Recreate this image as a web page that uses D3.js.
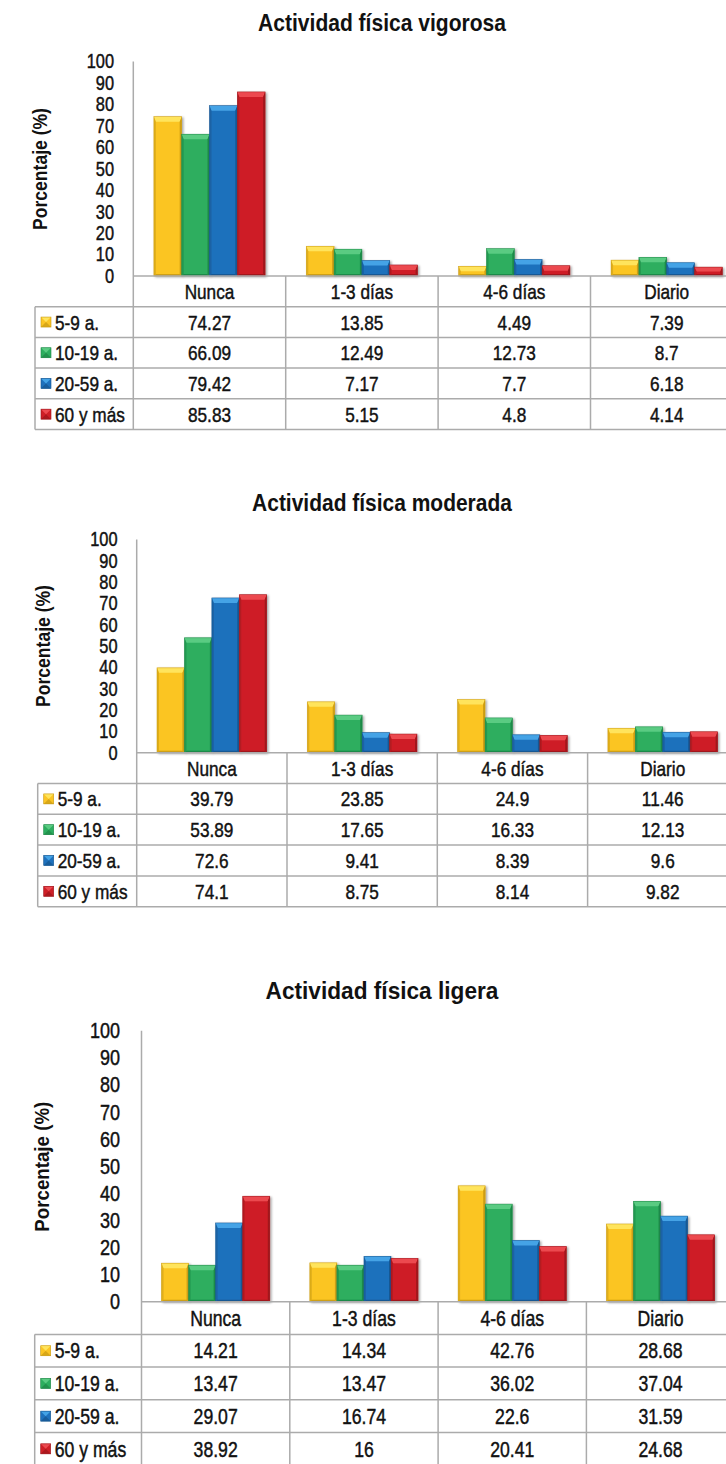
<!DOCTYPE html>
<html>
<head>
<meta charset="utf-8">
<script src="https://cdn.jsdelivr.net/npm/d3@7"></script>
<style>
  html, body { margin: 0; padding: 0; background: #ffffff; }
  svg { display: block; }
</style>
</head>
<body>
<svg id="chart" width="726" height="1464"></svg>
<script>
// ---------- DATA ----------
const categories = ["Nunca", "1-3 días", "4-6 días", "Diario"];
const series = ["5-9 a.", "10-19 a.", "20-59 a.", "60 y más"];
const yTicks = [0, 10, 20, 30, 40, 50, 60, 70, 80, 90, 100];
const yLabel = "Porcentaje (%)";
const titles = ["Actividad física vigorosa", "Actividad física moderada", "Actividad física ligera"];

// rows = series, columns = categories
const vigorosa = [
  [74.27, 13.85, 4.49, 7.39],
  [66.09, 12.49, 12.73, 8.7],
  [79.42, 7.17, 7.7, 6.18],
  [85.83, 5.15, 4.8, 4.14]
];
const moderada = [
  [39.79, 23.85, 24.9, 11.46],
  [53.89, 17.65, 16.33, 12.13],
  [72.6, 9.41, 8.39, 9.6],
  [74.1, 8.75, 8.14, 9.82]
];
const ligera = [
  [14.21, 14.34, 42.76, 28.68],
  [13.47, 13.47, 36.02, 37.04],
  [29.07, 16.74, 22.6, 31.59],
  [38.92, 16, 20.41, 24.68]
];

// ---------- STYLE ----------
const colors = ["#FBC524", "#2DAE5F", "#1F71BC", "#CE1F27"];
const lightColors = ["#FFE45C", "#5ACB82", "#44A3E6", "#EC4A50"];
const darkColors = ["#C99A12", "#1E8646", "#15558F", "#9C151B"];
const gridColor = "#ABABAB";
const font = "'Liberation Sans', Arial, sans-serif";
const NARROW = 0.82;
const TEXT_STROKE = 0.45;

// ---------- LAYOUT ----------
const layouts = [
  { data: vigorosa, titleY: 31, titleSize: 23, titleSx: 0.915, axisX: 133.3, colW: 152.4, yTop: 61.5, yBase: 276, rowH: 30.7,
    tableLeft: 35, tickRight: 114, tickSize: 20, yLabelX: 40, yLabelY: 169, yLabelSize: 19.5, yLabelSx: 0.9, cellSize: 21 },
  { data: moderada, titleY: 511, titleSize: 23, titleSx: 0.912, axisX: 136.7, colW: 150.3, yTop: 539.5, yBase: 752.7, rowH: 30.8,
    tableLeft: 37.7, tickRight: 117.5, tickSize: 20, yLabelX: 43.3, yLabelY: 646, yLabelSize: 19.5, yLabelSx: 0.9, cellSize: 21 },
  { data: ligera, titleY: 999, titleSize: 24, titleSx: 0.944, axisX: 141.5, colW: 148.3, yTop: 1030.7, yBase: 1301.7, rowH: 32.7,
    tableLeft: 34.7, tickRight: 120, tickSize: 22, yLabelX: 41.7, yLabelY: 1166.7, yLabelSize: 20.5, yLabelSx: 0.913, cellSize: 21.5 }
];

const svg = d3.select("#chart");
const defs = svg.append("defs");
const filt = defs.append("filter").attr("id", "shadow").attr("x", "-20%").attr("y", "-20%").attr("width", "150%").attr("height", "150%");
filt.append("feDropShadow").attr("dx", 1.5).attr("dy", 1).attr("stdDeviation", 1).attr("flood-color", "#000").attr("flood-opacity", 0.35);

// squeezed text helper
function txt(g, x, y, str, size, sx, anchor, bold) {
  const t = g.append("text")
    .attr("transform", `translate(${x},${y}) scale(${sx},1)`)
    .attr("text-anchor", anchor || "start")
    .attr("font-family", font)
    .attr("font-weight", bold ? "bold" : "normal")
    .attr("font-size", size)
    .attr("fill", "#111")
    .text(str);
  if (!bold) t.attr("stroke", "#111").attr("stroke-width", TEXT_STROKE);
  return t;
}

function bevelBar(g, x0, y0, w, h, i) {
  const b = Math.min(2, w / 4);
  const bt = Math.min(5, h / 2);
  const bb = Math.min(2, h / 4);
  const bar = g.append("g").attr("filter", "url(#shadow)");
  bar.append("rect").attr("x", x0).attr("y", y0).attr("width", w).attr("height", h).attr("fill", colors[i]);
  const poly = (pts, fill, op) => bar.append("polygon").attr("points", pts.map(p => p.join(",")).join(" ")).attr("fill", fill).attr("opacity", op);
  poly([[x0, y0], [x0 + w, y0], [x0 + w - b, y0 + bt], [x0 + b, y0 + bt]], lightColors[i], 1);
  poly([[x0, y0], [x0 + b, y0 + bt], [x0 + b, y0 + h - bb], [x0, y0 + h]], darkColors[i], 0.55);
  poly([[x0 + w, y0], [x0 + w - b, y0 + bt], [x0 + w - b, y0 + h - bb], [x0 + w, y0 + h]], darkColors[i], 0.9);
  poly([[x0, y0 + h], [x0 + b, y0 + h - bb], [x0 + w - b, y0 + h - bb], [x0 + w, y0 + h]], darkColors[i], 0.9);
  bar.append("rect").attr("x", x0).attr("y", y0).attr("width", w).attr("height", h)
    .attr("fill", "none").attr("stroke", darkColors[i]).attr("stroke-width", 0.6).attr("stroke-opacity", 0.8);
}

function bevelKey(g, x0, y0, s, i) {
  const k = g.append("g");
  k.append("rect").attr("x", x0).attr("y", y0).attr("width", s).attr("height", s).attr("fill", colors[i]);
  const c = s / 2;
  k.append("polygon").attr("points", `${x0},${y0} ${x0 + s},${y0} ${x0 + c},${y0 + c}`).attr("fill", lightColors[i]);
  k.append("polygon").attr("points", `${x0},${y0 + s} ${x0 + s},${y0 + s} ${x0 + c},${y0 + c}`).attr("fill", darkColors[i]).attr("opacity", 0.7);
  k.append("rect").attr("x", x0).attr("y", y0).attr("width", s).attr("height", s).attr("fill", "none")
    .attr("stroke", darkColors[i]).attr("stroke-width", 0.6);
}

layouts.forEach((L, ci) => {
  const g = svg.append("g");
  const x = d3.scaleBand().domain(categories).range([L.axisX, L.axisX + L.colW * categories.length]).padding(0);
  const xs = d3.scaleBand().domain(series).range([0, x.bandwidth()]).paddingInner(0).paddingOuter(0.74);
  const y = d3.scaleLinear().domain([0, 100]).range([L.yBase, L.yTop]);
  const nRows = series.length + 1;
  const tableBottom = L.yBase + L.rowH * nRows;
  const rightEdge = L.axisX + L.colW * categories.length;

  // Title
  txt(g, 382, L.titleY, titles[ci], L.titleSize, L.titleSx, "middle", true);

  // Y axis label
  g.append("text").attr("transform", `translate(${L.yLabelX},${L.yLabelY}) rotate(-90) scale(${L.yLabelSx},1)`)
    .attr("dy", "0.35em").attr("text-anchor", "middle")
    .attr("font-family", font).attr("font-weight", "bold").attr("font-size", L.yLabelSize)
    .attr("fill", "#111").text(yLabel);

  // Y axis ticks
  const pad = L.axisX - L.tickRight;
  const yAxis = d3.axisLeft(y).tickValues(yTicks).tickSize(0).tickPadding(pad).tickFormat(d3.format("d"));
  const ya = g.append("g").attr("transform", `translate(${L.axisX},0)`).call(yAxis);
  ya.select(".domain").remove();
  ya.selectAll("text")
    .attr("x", -pad / NARROW)
    .attr("transform", `scale(${NARROW},1)`)
    .attr("font-family", font).attr("font-size", L.tickSize).attr("fill", "#111")
    .attr("stroke", "#111").attr("stroke-width", TEXT_STROKE);

  // Bars
  series.forEach((s, si) => {
    categories.forEach((c, cj) => {
      const v = L.data[si][cj];
      bevelBar(g, x(c) + xs(s), y(v), xs.bandwidth(), y(0) - y(v), si);
    });
  });

  // Grid lines
  const lines = g.append("g").attr("stroke", gridColor).attr("stroke-width", 1.5).attr("fill", "none");
  lines.append("line").attr("x1", L.axisX).attr("x2", L.axisX).attr("y1", y(100)).attr("y2", tableBottom);
  categories.forEach(c => {
    const xx = x(c) + x.bandwidth();
    lines.append("line").attr("x1", xx).attr("x2", xx).attr("y1", L.yBase).attr("y2", tableBottom);
  });
  lines.append("line").attr("x1", L.axisX).attr("x2", rightEdge).attr("y1", L.yBase).attr("y2", L.yBase);
  for (let r = 1; r <= nRows; r++) {
    const yy = L.yBase + L.rowH * r;
    lines.append("line").attr("x1", L.tableLeft).attr("x2", rightEdge).attr("y1", yy).attr("y2", yy);
  }
  lines.append("line").attr("x1", L.tableLeft).attr("x2", L.tableLeft).attr("y1", L.yBase + L.rowH).attr("y2", tableBottom);

  // Category header
  const capOff = L.cellSize * 0.36;
  categories.forEach(c => {
    txt(g, x(c) + x.bandwidth() / 2, L.yBase + L.rowH / 2 + capOff, c, L.cellSize, NARROW, "middle");
  });

  // Rows
  series.forEach((s, si) => {
    const cy = L.yBase + L.rowH * (si + 1) + L.rowH / 2;
    bevelKey(g, L.tableLeft + 6, cy - 5, 10, si);
    txt(g, L.tableLeft + 20, cy + capOff, s, L.cellSize, NARROW, "start");
    categories.forEach((c, cj) => {
      txt(g, x(c) + x.bandwidth() / 2, cy + capOff, String(L.data[si][cj]), L.cellSize, NARROW, "middle");
    });
  });
});
</script>
</body>
</html>
